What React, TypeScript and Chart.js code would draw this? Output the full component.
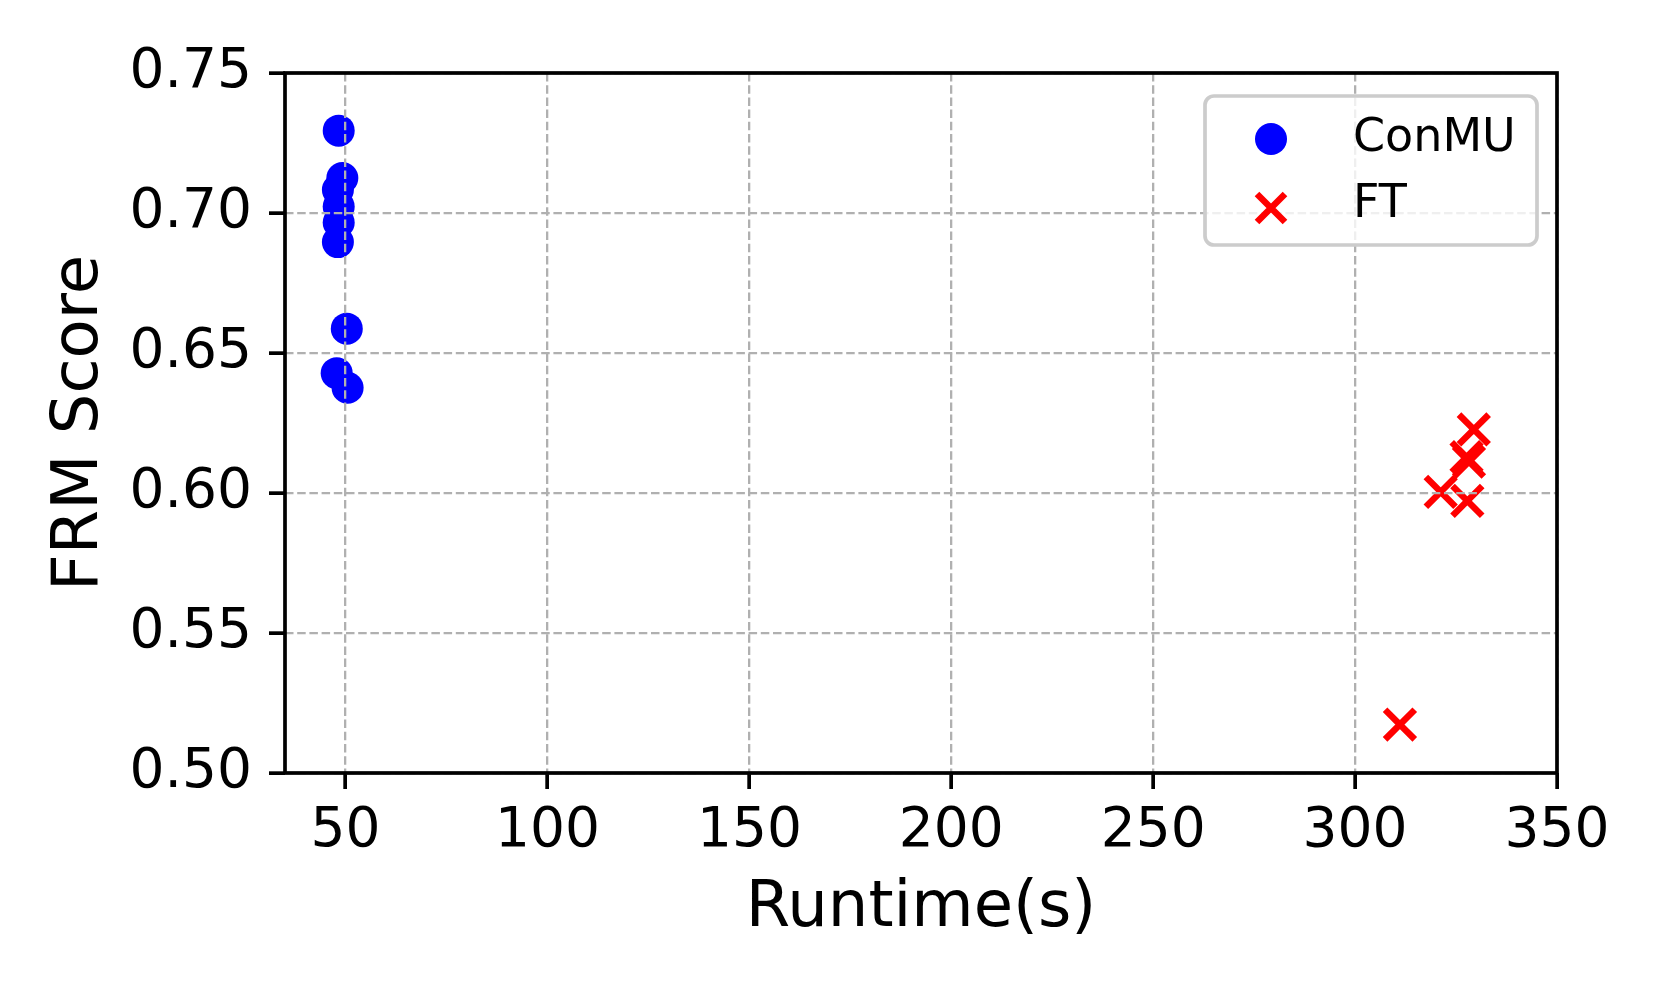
import React, { useEffect, useRef } from "react";
import { Chart, registerables } from "chart.js";

Chart.register(...registerables);

const conmuRuntime = [48.3, 49.2, 48.1, 48.3, 48.3, 48.1, 50.3, 47.8, 50.5];
const conmuScore = [0.7294, 0.7125, 0.7083, 0.7023, 0.6966, 0.6896, 0.6587, 0.6428, 0.6376];

const ftRuntime = [329.4, 327.6, 328.2, 321.2, 327.8, 311.1];
const ftScore = [0.6227, 0.6128, 0.6112, 0.6004, 0.5972, 0.5173];

const xTicks = [50, 100, 150, 200, 250, 300, 350];
const yTicks = [0.5, 0.55, 0.6, 0.65, 0.7, 0.75];

const seriesLabels = ["ConMU", "FT"];
const seriesColors = ["#0000ff", "#ff0000"];

const FONT = "'DejaVu Sans', sans-serif";

const framePlugin = {
  id: "frame",
  afterDraw(chart: any) {
    const { ctx, chartArea } = chart;
    ctx.save();
    ctx.strokeStyle = "#000";
    ctx.lineWidth = 3.7;
    ctx.strokeRect(chartArea.left, chartArea.top, chartArea.right - chartArea.left, chartArea.bottom - chartArea.top);
    ctx.restore();
  },
};

const legendPlugin = {
  id: "customLegend",
  afterDraw(chart: any) {
    const { ctx } = chart;
    const x0 = 1205, y0 = 96, w = 332, h = 149, r = 9;
    ctx.save();
    ctx.beginPath();
    ctx.moveTo(x0 + r, y0);
    ctx.lineTo(x0 + w - r, y0);
    ctx.arcTo(x0 + w, y0, x0 + w, y0 + r, r);
    ctx.lineTo(x0 + w, y0 + h - r);
    ctx.arcTo(x0 + w, y0 + h, x0 + w - r, y0 + h, r);
    ctx.lineTo(x0 + r, y0 + h);
    ctx.arcTo(x0, y0 + h, x0, y0 + h - r, r);
    ctx.lineTo(x0, y0 + r);
    ctx.arcTo(x0, y0, x0 + r, y0, r);
    ctx.closePath();
    ctx.fillStyle = "rgba(255,255,255,0.8)";
    ctx.fill();
    ctx.strokeStyle = "#cccccc";
    ctx.lineWidth = 3.7;
    ctx.stroke();

    const ds = chart.data.datasets;
    const rows = [139, 205];
    const markerY = [139, 208];
    ctx.font = `46px ${FONT}`;
    ctx.textBaseline = "middle";
    ctx.textAlign = "left";
    ds.forEach((d: any, i: number) => {
      const cy = markerY[i];
      const cx = 1271;
      if (i === 0) {
        ctx.beginPath();
        ctx.arc(cx, cy, 16, 0, Math.PI * 2);
        ctx.fillStyle = d.backgroundColor;
        ctx.fill();
      } else {
        ctx.beginPath();
        ctx.strokeStyle = d.borderColor;
        ctx.lineWidth = 6.5;
        ctx.moveTo(cx - 14, cy - 14);
        ctx.lineTo(cx + 14, cy + 14);
        ctx.moveTo(cx + 14, cy - 14);
        ctx.lineTo(cx - 14, cy + 14);
        ctx.stroke();
      }
      ctx.fillStyle = "#000";
      ctx.fillText(d.label, 1353, rows[i]);
    });
    ctx.restore();
  },
};

export default function App() {
  const ref = useRef<HTMLCanvasElement | null>(null);

  useEffect(() => {
    document.body.style.margin = "0";
    const canvas = ref.current;
    if (!canvas) return;
    const gridCommon = {
      color: "#b0b0b0",
      lineWidth: 2.3,
      tickColor: "#000",
      tickWidth: 3.7,
      tickLength: 16,
      tickBorderDash: [],
      z: 1,
    };
    const chart = new Chart(canvas, {
      type: "scatter",
      data: {
        datasets: [
          {
            label: seriesLabels[0],
            data: conmuRuntime.map((x, i) => ({ x, y: conmuScore[i] })),
            backgroundColor: seriesColors[0],
            borderColor: seriesColors[0],
            pointStyle: "circle",
            pointRadius: 16,
            pointBorderWidth: 0,
            pointHoverRadius: 16,
          },
          {
            label: seriesLabels[1],
            data: ftRuntime.map((x, i) => ({ x, y: ftScore[i] })),
            backgroundColor: seriesColors[1],
            borderColor: seriesColors[1],
            pointStyle: "crossRot",
            pointRadius: 21,
            pointBorderWidth: 6.5,
            pointHoverRadius: 21,
          },
        ],
      },
      options: {
        responsive: false,
        animation: false,
        devicePixelRatio: 1,
        layout: { padding: { top: 73, right: 104, left: 0, bottom: 0 } },
        plugins: {
          legend: { display: false },
          tooltip: { enabled: false },
        },
        scales: {
          x: {
            type: "linear",
            min: 35,
            max: 350,
            afterBuildTicks: (s: any) => {
              s.ticks = xTicks.map((v) => ({ value: v }));
            },
            afterFit: (s: any) => {
              s.height = 224;
            },
            grid: gridCommon,
            border: { display: false, dash: [8.5, 3.7] },
            ticks: {
              color: "#000",
              font: { family: FONT, size: 55 },
              padding: 10,
              maxRotation: 0,
              callback: (v: any) => String(v),
            },
            title: {
              display: true,
              text: "Runtime(s)",
              color: "#000",
              font: { family: FONT, size: 64 },
              padding: { top: 0, bottom: 49 },
            },
          },
          y: {
            type: "linear",
            min: 0.5,
            max: 0.75,
            afterBuildTicks: (s: any) => {
              s.ticks = yTicks.map((v) => ({ value: v }));
            },
            afterFit: (s: any) => {
              s.width = 285;
            },
            grid: gridCommon,
            border: { display: false, dash: [8.5, 3.7] },
            ticks: {
              color: "#000",
              font: { family: FONT, size: 55 },
              padding: 17,
              callback: (v: any) => Number(v).toFixed(2),
            },
            title: {
              display: true,
              text: "FRM Score",
              color: "#000",
              font: { family: FONT, size: 64 },
              padding: { top: 42, bottom: 0 },
            },
          },
        },
      },
      plugins: [framePlugin, legendPlugin],
    });
    return () => chart.destroy();
  }, []);

  return (
    <div style={{ position: "absolute", left: 0, top: 0, width: 1661, height: 997, background: "#fff" }}>
      <canvas ref={ref} width={1661} height={997} style={{ width: 1661, height: 997, display: "block" }} />
    </div>
  );
}
